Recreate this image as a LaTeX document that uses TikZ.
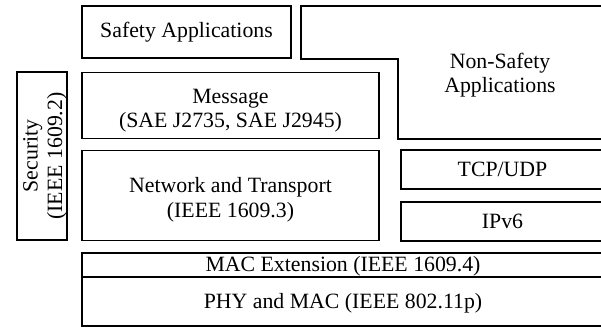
\documentclass[tikz,border=0pt]{standalone}
\usepackage{fontspec}
\setmainfont{Liberation Serif}
\begin{document}
\begin{tikzpicture}[x=1pt,y=-1pt,
  layer/.style={draw, line width=1.6pt, inner sep=0pt, align=center, font=\fontsize{21.8}{24.5}\selectfont},
  lbl/.style={align=center, inner sep=0pt, font=\fontsize{21.8}{24.5}\selectfont}]
\clip (0,0) rectangle (601,330);
\fill[white] (0,0) rectangle (601,330);
% Safety applications
\node[layer, minimum width=209pt, minimum height=52pt] (safety) at (186.5,32) {Safety Applications};
% Non-safety applications (stepped outline)
\draw[line width=1.6pt] (604,6) -- (301,6) -- (301,59) -- (398,59) -- (398,139) -- (604,139);
\node[lbl] (nonsafety) at (500,75) {Non-Safety\\Applications};
% Message
\node[layer, minimum width=297pt, minimum height=66pt] (message) at (230.5,105.5) {};
\node[lbl] (msgtext) at (230.5,110.5) {Message\\(SAE J2735, SAE J2945)};
% Network and transport
\node[layer, minimum width=297pt, minimum height=90pt] (network) at (230.5,195.5) {};
\node[lbl] (nettext) at (230.5,199.5) {Network and Transport\\(IEEE 1609.3)};
% Security
\node[layer, minimum width=50pt, minimum height=168pt] (security) at (42,156) {};
\node[lbl, rotate=90] (sectext) at ([xshift=3pt]security.center) {Security\\(IEEE 1609.2)};
% TCP/UDP and IPv6
\node[layer, minimum width=203pt, minimum height=39pt] (tcp) at (502.5,169.5) {TCP/UDP};
\node[layer, minimum width=203pt, minimum height=39pt] (ipv6) at (502.5,221.5) {IPv6};
% MAC extension and PHY
\node[layer, minimum width=522pt, minimum height=24pt] (macext) at (343,265) {};
\node[lbl] (mactext) at (343,266) {MAC Extension (IEEE 1609.4)};
\node[layer, minimum width=522pt, minimum height=49pt] (phy) at (343,301.5) {};
\node[lbl] (phytext) at (343,303) {PHY and MAC (IEEE 802.11p)};
\end{tikzpicture}
\end{document}
